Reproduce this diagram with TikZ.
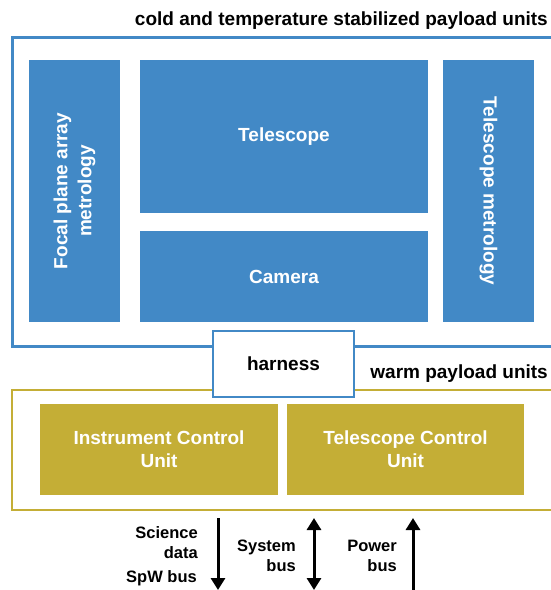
\documentclass[tikz,border=0pt]{standalone}
\usepackage{fontspec}
\setmainfont{Liberation Sans}
\usetikzlibrary{arrows.meta}
\definecolor{boxblue}{RGB}{66,137,198}
\definecolor{gold}{RGB}{196,174,54}
\begin{document}
\begin{tikzpicture}[x=1pt,y=-1pt,
  bluebox/.style={fill=boxblue, draw=none, text=white, font=\fontsize{19}{24}\selectfont\bfseries, align=center, inner sep=0pt},
  goldbox/.style={fill=gold, draw=none, text=white, font=\fontsize{19}{23}\selectfont\bfseries, align=center, inner sep=0pt},
  harnessbox/.style={fill=white, draw=boxblue, line width=2pt, font=\fontsize{19}{22}\selectfont\bfseries, inner sep=0pt},
  titletext/.style={font=\fontsize{19}{22}\selectfont\bfseries, inner sep=0pt, anchor=east},
  buslabel/.style={font=\fontsize{16.5}{20}\selectfont\bfseries, inner sep=0pt, anchor=east, align=right},
  busarrow/.style={line width=3pt, -{Triangle[width=14pt,length=12pt]}},
  busarrows/.style={line width=3pt, {Triangle[width=14pt,length=12pt]}-{Triangle[width=14pt,length=12pt]}}]
\useasboundingbox (0,0) rectangle (550,590);
% frames
\draw[boxblue, line width=3pt] (552,37) -- (12,37) -- (12,346) -- (552,346);
\draw[gold, line width=2pt] (552,390) -- (12,390) -- (12,510) -- (552,510);
% titles
\node[titletext] (coldtitle) at (548,21) {cold and temperature stabilized payload units};
\node[titletext] (warmtitle) at (548,374) {warm payload units};
% cold units
\node[bluebox, rotate=90, minimum width=262pt, minimum height=91pt] (fpa) at (74.5,191) {Focal plane array\\metrology};
\node[bluebox, minimum width=288pt, minimum height=153pt] (tel) at (284,136.5) {Telescope};
\node[bluebox, minimum width=288pt, minimum height=91pt] (cam) at (284,276.5) {Camera};
\node[bluebox, rotate=-90, minimum width=262pt, minimum height=91pt] (tmet) at (488.5,191) {Telescope metrology};
% warm units
\node[goldbox, minimum width=238pt, minimum height=91pt] (icu) at (159,449.5) {Instrument Control\\Unit};
\node[goldbox, minimum width=237pt, minimum height=91pt] (tcu) at (405.5,449.5) {Telescope Control\\Unit};
% harness
\node[harnessbox, minimum width=141pt, minimum height=66pt] (harness) at (283.5,364) {harness};
% buses
\coordinate (sciA) at (218,518);
\coordinate (sciB) at (218,590);
\coordinate (sysA) at (314,518);
\coordinate (sysB) at (314,590);
\coordinate (powA) at (413,590);
\coordinate (powB) at (413,518);
\draw[busarrow] (sciA) -- (sciB);
\draw[busarrows] (sysA) -- (sysB);
\draw[busarrow] (powA) -- (powB);
\node[buslabel] (scilabel) at (198,543) {Science\\data};
\node[buslabel] (spwlabel) at (197,578) {SpW bus};
\node[buslabel] (syslabel) at (296,556) {System\\bus};
\node[buslabel] (powlabel) at (397,556) {Power\\bus};
\end{tikzpicture}
\end{document}
